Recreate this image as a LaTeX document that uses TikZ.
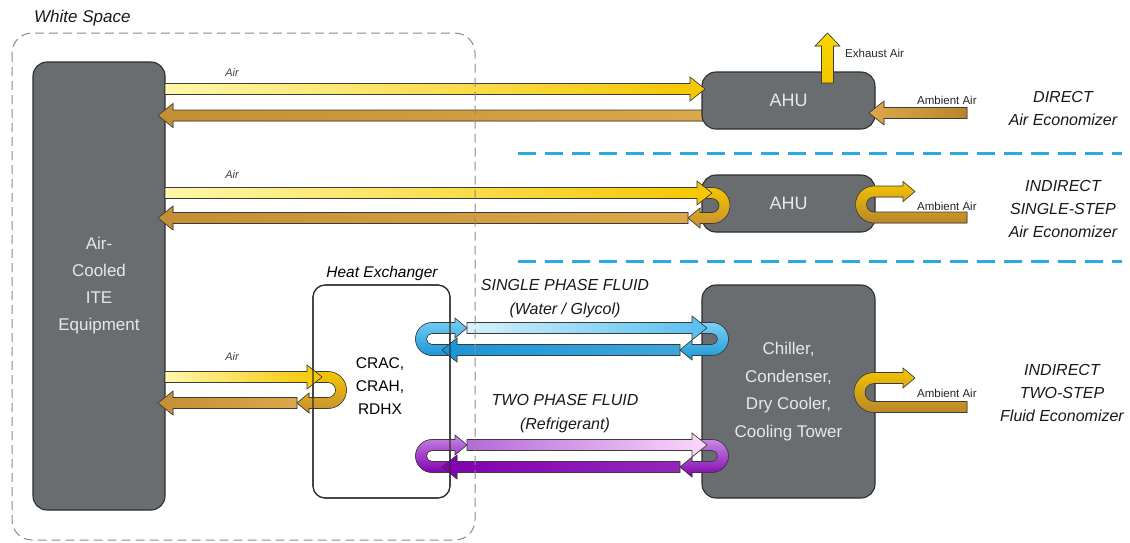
\documentclass[tikz,border=0pt]{standalone}
\usepackage{fontspec}
\setmainfont{Liberation Sans}

\definecolor{boxgray}{HTML}{6A6D70}
\definecolor{edgegray}{HTML}{2E2E2E}
\definecolor{boxtext}{HTML}{E8E8E8}
\definecolor{arredge}{HTML}{3A3A3A}
\definecolor{yelpale}{HTML}{FFF8A8}
\definecolor{yelgold}{HTML}{F6C600}
\definecolor{ochreL}{HTML}{C48E34}
\definecolor{ochreR}{HTML}{DCA84A}
\definecolor{ochreDk}{HTML}{B8862A}
\definecolor{bluePale}{HTML}{D6F1FC}
\definecolor{blueMid}{HTML}{55BFF0}
\definecolor{blueDeep}{HTML}{1B96D6}
\definecolor{blueU}{HTML}{7CD0F6}
\definecolor{purMid}{HTML}{B36AD8}
\definecolor{purPale}{HTML}{FBD8FB}
\definecolor{purDeep}{HTML}{8200B0}
\definecolor{purU}{HTML}{C68BE4}
\definecolor{dashblue}{HTML}{29ABE2}
\definecolor{wsgray}{HTML}{8A8A8A}

% straight block arrow pointing right: from x #1 to tip x #2 at height #3
\newcommand{\ArrR}[4]{%
  \filldraw[#4] (#1,#3-5.5) -- (#2-15,#3-5.5) -- (#2-15,#3-12) -- (#2,#3)
    -- (#2-15,#3+12) -- (#2-15,#3+5.5) -- (#1,#3+5.5) -- cycle;}
% straight block arrow pointing left: from x #1 to tip x #2 at height #3
\newcommand{\ArrL}[4]{%
  \filldraw[#4] (#1,#3-5.5) -- (#2+15,#3-5.5) -- (#2+15,#3-12) -- (#2,#3)
    -- (#2+15,#3+12) -- (#2+15,#3+5.5) -- (#1,#3+5.5) -- cycle;}
% U-turn bulging right: centre x #1, mid height #2, radius #3,
% top band starts at x #4, bottom band ends in a left head with tip x #5
\newcommand{\URight}[6]{%
  \filldraw[#6] (#4,#2-#3-5.5) -- (#1,#2-#3-5.5)
    arc[start angle=-90,end angle=90,radius=#3+5.5]
    -- (#5+12,#2+#3+5.5) -- (#5+12,#2+#3+10) -- (#5,#2+#3)
    -- (#5+12,#2+#3-10) -- (#5+12,#2+#3-5.5) -- (#1,#2+#3-5.5)
    arc[start angle=90,end angle=-90,radius=#3-5.5]
    -- (#4,#2-#3+5.5) -- cycle;}
% U-turn bulging left: centre x #1, mid height #2, radius #3,
% bottom band starts at x #4, top band ends in a right head with tip x #5
\newcommand{\ULeft}[6]{%
  \filldraw[#6] (#4,#2+#3+5.5) -- (#1,#2+#3+5.5)
    arc[start angle=90,end angle=270,radius=#3+5.5]
    -- (#5-12,#2-#3-5.5) -- (#5-12,#2-#3-10) -- (#5,#2-#3)
    -- (#5-12,#2-#3+10) -- (#5-12,#2-#3+5.5) -- (#1,#2-#3+5.5)
    arc[start angle=270,end angle=90,radius=#3-5.5]
    -- (#4,#2+#3-5.5) -- cycle;}

\begin{document}
\begin{tikzpicture}[x=1pt,y=-1pt,
  box/.style={draw=edgegray, line width=1.1pt, fill=boxgray, rounded corners=14pt,
    inner sep=0pt, outer sep=0pt, text=boxtext, align=center},
  hxbox/.style={draw=edgegray, line width=1.1pt, rounded corners=12pt,
    inner sep=0pt, outer sep=0pt},
  arr/.style={draw=arredge, line width=0.6pt},
  supply/.style={arr, left color=yelpale, right color=yelgold},
  return/.style={arr, left color=ochreL, right color=ochreR},
  ambient/.style={arr, left color=ochreR, right color=ochreDk},
  airturn/.style={arr, top color=yelgold, bottom color=ochreL},
  ambturn/.style={arr, top color=yelgold, bottom color=ochreDk},
  bluetop/.style={arr, left color=bluePale, right color=blueMid},
  bluebot/.style={arr, left color=blueDeep, right color=blueDeep!85!white},
  blueturn/.style={arr, top color=blueU, bottom color=blueDeep},
  purtop/.style={arr, left color=purMid, right color=purPale},
  purbot/.style={arr, left color=purDeep, right color=purDeep!85!white},
  purturn/.style={arr, top color=purU, bottom color=purDeep},
  airlbl/.style={font=\itshape\fontsize{11}{12}\selectfont, text=black!75},
  smalllbl/.style={font=\fontsize{11.5}{12}\selectfont, text=black!85, anchor=west, inner sep=0pt},
  sidelbl/.style={font=\itshape\fontsize{16}{23}\selectfont, align=center, text=black!90},
  fluidlbl/.style={font=\itshape\fontsize{16}{24}\selectfont, align=center, text=black!90},
  zoneline/.style={draw=dashblue, line width=3pt, dash pattern=on 18pt off 9pt}
]
\useasboundingbox (0,0) rectangle (1130,542);

% ---- equipment blocks ----
\node[box, minimum width=132pt, minimum height=448pt, font=\fontsize{17}{27}\selectfont]
  (ite) at (99,286) {Air-\\Cooled\\ITE\\Equipment};

% return air that leaves from behind the AHUs
\ArrL{720}{158}{115.5}{return}

\node[box, minimum width=173pt, minimum height=57pt, font=\fontsize{18}{20}\selectfont]
  (ahuA) at (788.5,100.5) {AHU};
\node[box, minimum width=173pt, minimum height=57pt, font=\fontsize{18}{20}\selectfont]
  (ahuB) at (788.5,203.5) {AHU};
\node[box, minimum width=173pt, minimum height=213pt, font=\fontsize{17}{27.5}\selectfont]
  (plant) at (788.5,391.5) {Chiller,\\Condenser,\\Dry Cooler,\\Cooling Tower};
\node[hxbox, fill=white, minimum width=137pt, minimum height=213pt] (hx) at (381.5,391.5) {};
\node[font=\fontsize{15.5}{23}\selectfont, align=center] (hxtype) at (380,386) {CRAC,\\CRAH,\\RDHX};

% ---- zone separators ----
\draw[zoneline] (518,153) -- (1122,153);
\draw[zoneline] (518,261) -- (1122,261);

% ---- row 1: direct air economizer ----
\ArrR{165}{705}{89}{supply}
\ArrL{967}{869}{113}{ambient}
\filldraw[arr, bottom color=yelgold, top color=yelgold!70!yellow]
  (821.5,83) -- (821.5,46) -- (815,46) -- (827.5,33) -- (840,46) -- (833.5,46) -- (833.5,83) -- cycle;

% ---- row 2: indirect single-step air economizer ----
\URight{712}{205.5}{12.5}{700}{688}{airturn}
\ArrL{688}{158}{218}{return}
\ArrR{165}{712}{193}{supply}
\ULeft{874}{204.5}{13}{967}{915}{ambturn}

% ---- row 3: heat exchanger and two-step fluid economizer ----
\URight{328}{390}{13}{314}{297}{airturn}
\ArrL{297}{158}{403}{return}
\ArrR{165}{322}{377}{supply}
\ULeft{874}{392.5}{14.5}{967}{915}{ambturn}

% single phase fluid loop
\ULeft{432}{339}{11}{452}{467}{blueturn}
\URight{712}{339}{11}{700}{680}{blueturn}
\ArrR{467}{707}{328}{bluetop}
\ArrL{680}{442}{350}{bluebot}

% two phase fluid loop
\ULeft{432}{456}{11}{452}{467}{purturn}
\URight{712}{456}{11}{700}{680}{purturn}
\ArrR{467}{707}{445}{purtop}
\ArrL{680}{442}{467}{purbot}

% box outline that stays visible across the loops
\node[hxbox, minimum width=137pt, minimum height=213pt] (hxedge) at (hx) {};

% ---- labels ----
\node[airlbl] (airA) at (232,73) {Air};
\node[airlbl] (airB) at (232,175) {Air};
\node[airlbl] (airC) at (232,357) {Air};
\node[smalllbl] (exh) at (845,53) {Exhaust Air};
\node[smalllbl] (ambA) at (917,100) {Ambient Air};
\node[smalllbl] (ambB) at (917,206) {Ambient Air};
\node[smalllbl] (ambC) at (917,393) {Ambient Air};
\node[font=\itshape\fontsize{15.5}{17}\selectfont] (hxname) at (382,273) {Heat Exchanger};
\node[fluidlbl] (single) at (565,299) {SINGLE PHASE FLUID\\(Water / Glycol)};
\node[fluidlbl] (twophase) at (565,414) {TWO PHASE FLUID\\(Refrigerant)};
\node[sidelbl] (direct) at (1063,108) {DIRECT\\Air Economizer};
\node[sidelbl] (indA) at (1063,209) {INDIRECT\\SINGLE-STEP\\Air Economizer};
\node[sidelbl] (indB) at (1062,393) {INDIRECT\\TWO-STEP\\Fluid Economizer};

% ---- white space boundary ----
\draw[wsgray, line width=1pt, dash pattern=on 9pt off 5pt, rounded corners=20pt]
  (12,33) rectangle (475,540);
\node[font=\itshape\fontsize{17}{18}\selectfont, anchor=west, inner sep=0pt, text=black!90]
  (ws) at (34,18) {White Space};
\end{tikzpicture}
\end{document}
